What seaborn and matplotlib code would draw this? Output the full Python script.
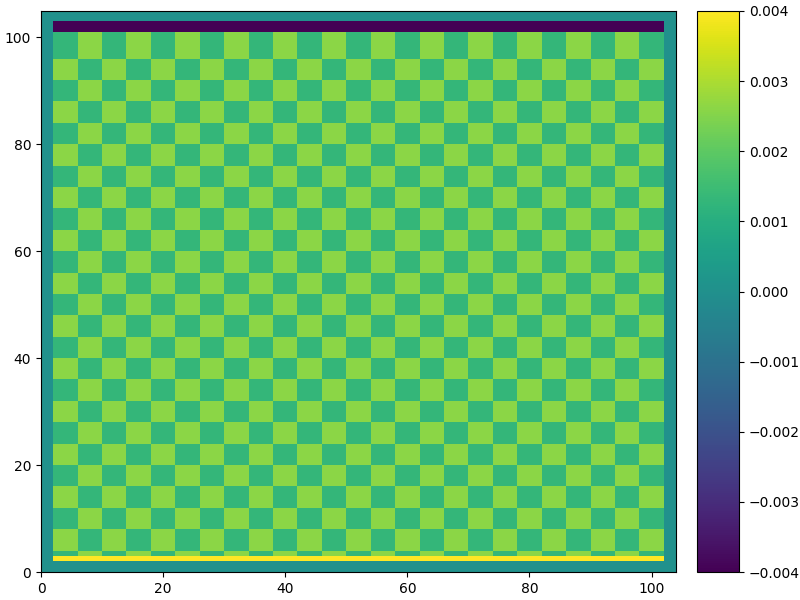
import numpy as np
import matplotlib
matplotlib.use("Agg")
import matplotlib.pyplot as plt
import seaborn as sns

# grid size (cells of 1 unit)
n_cols = 104
n_rows = 105

# checkerboard block edges
checker_x_edges = [2, 6, 10, 14, 18, 22, 26, 30, 34, 38, 42, 46, 50, 54, 58,
                   62, 66, 70, 74, 78, 82, 86, 90, 94, 98, 102]
checker_y_edges = [3, 4, 8, 12, 16, 20, 24, 28, 32, 36, 40, 44, 48, 52, 56,
                   60, 64, 68, 72, 76, 80, 84, 88, 92, 96, 101]
checker_values = [0.0013, 0.0026]   # dark, light

# boundary strips: (y0, y1, value)
top_strip = (101, 103, -0.004)
bottom_strip = (2, 3, 0.004)
background = 0.0

ticks = [0, 20, 40, 60, 80, 100]
cbar_ticks = [-0.004, -0.003, -0.002, -0.001, 0.0, 0.001, 0.002, 0.003, 0.004]

# build the field
grid = np.full((n_rows, n_cols), background)
for i in range(len(checker_y_edges) - 1):
    for j in range(len(checker_x_edges) - 1):
        y0, y1 = checker_y_edges[i], checker_y_edges[i + 1]
        x0, x1 = checker_x_edges[j], checker_x_edges[j + 1]
        grid[y0:y1, x0:x1] = checker_values[(i + j) % 2]
x0, x1 = checker_x_edges[0], checker_x_edges[-1]
grid[top_strip[0]:top_strip[1], x0:x1] = top_strip[2]
grid[bottom_strip[0]:bottom_strip[1], x0:x1] = bottom_strip[2]

fig = plt.figure(figsize=(8, 6), dpi=100)
ax = fig.add_axes([41 / 800, 28 / 600, 635 / 800, 561 / 600])
cax = fig.add_axes([697 / 800, 28 / 600, 42 / 800, 561 / 600])

sns.heatmap(grid, cmap="viridis", vmin=-0.004, vmax=0.004, ax=ax, cbar_ax=cax,
            xticklabels=False, yticklabels=False, rasterized=True)
ax.set_ylim(0, 104.9)
ax.set_xlim(0, n_cols)
ax.set_xticks(ticks)
ax.set_xticklabels([str(t) for t in ticks])
ax.set_yticks(ticks)
ax.set_yticklabels([str(t) for t in ticks])
ax.tick_params(length=3.5, width=0.8, labelsize=10)
for s in ax.spines.values():
    s.set_visible(True)
    s.set_linewidth(0.8)
    s.set_color("black")

cb = ax.collections[0].colorbar
cb.outline.set_visible(True)
cb.outline.set_linewidth(0.8)
cb.outline.set_edgecolor("black")
cb.set_ticks(cbar_ticks)
cb.ax.tick_params(length=3.5, width=0.8, labelsize=10)
cb.ax.yaxis.set_major_formatter(matplotlib.ticker.ScalarFormatter())

fig.savefig("out.png", dpi=100)
